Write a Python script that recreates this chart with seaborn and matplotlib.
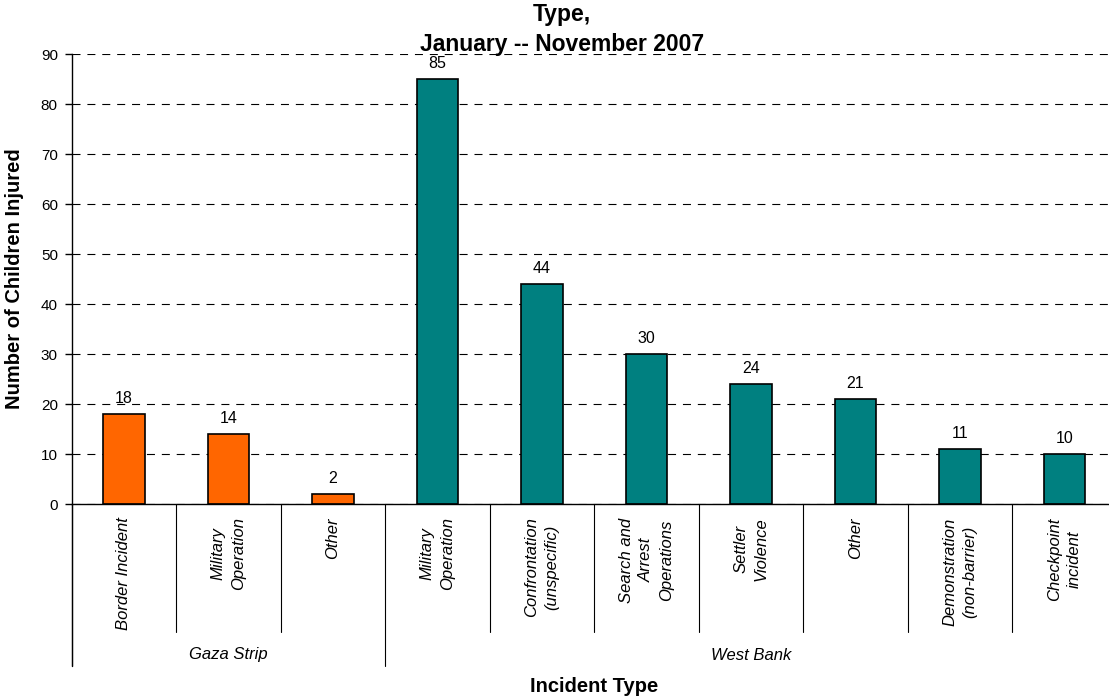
import matplotlib
matplotlib.use("Agg")
import matplotlib.pyplot as plt
import seaborn as sns
import pandas as pd

regions = ["Gaza Strip"] * 3 + ["West Bank"] * 7
categories = ["Border Incident", "Military\nOperation", "Other",
              "Military\nOperation", "Confrontation\n(unspecific)",
              "Search and\nArrest\nOperations", "Settler\nViolence", "Other",
              "Demonstration\n(non-barrier)", "Checkpoint\nincident"]
values = [18, 14, 2, 85, 44, 30, 24, 21, 11, 10]
region_colors = {"Gaza Strip": "#FF6600", "West Bank": "#008080"}
y_ticks = list(range(0, 91, 10))

sns.set_theme(style="white")
plt.rcParams["font.family"] = ["Liberation Sans", "DejaVu Sans"]
plt.rcParams["text.color"] = "black"
plt.rcParams["axes.labelcolor"] = "black"
plt.rcParams["xtick.color"] = "black"
plt.rcParams["ytick.color"] = "black"

df = pd.DataFrame({"idx": list(range(len(values))), "region": regions,
                   "value": values})

fig = plt.figure(figsize=(11.09, 7.0), dpi=100)
ax = fig.add_axes([71.75 / 1109, 196 / 700, 1045 / 1109, 450 / 700])

sns.barplot(data=df, x="idx", y="value", hue="region", palette=region_colors,
            dodge=False, width=0.4, edgecolor="black", linewidth=1.2,
            saturation=1, legend=False, ax=ax)

ax.set_ylim(0, 90)
ax.set_xlim(-0.5, len(values) - 0.5)
ax.set_yticks(y_ticks)
ax.set_yticklabels([str(t) for t in y_ticks], fontsize=11)
ax.yaxis.grid(True, linestyle=(0, (7.2, 6.2)), color="black", linewidth=0.8)
ax.set_axisbelow(True)
ax.tick_params(axis="y", left=True, length=5, width=1, color="black", pad=5)
ax.set_xticks([])
ax.set_xlabel("")
ax.set_ylabel("Number of Children Injured", fontsize=14.5, fontweight="bold",
              labelpad=12)
for s in ["top", "right"]:
    ax.spines[s].set_visible(False)
for s in ["left", "bottom"]:
    ax.spines[s].set_color("black")
    ax.spines[s].set_linewidth(1)

# value labels
for i, v in enumerate(values):
    ax.annotate(str(v), (i, v), xytext=(0, 5.5), textcoords="offset points",
                ha="center", va="bottom", fontsize=11.5)

trans = ax.get_xaxis_transform()
# category labels
for i, c in enumerate(categories):
    ax.text(i, -0.03, c, rotation=90, ha="center", va="top",
            multialignment="center", fontsize=12, style="italic",
            linespacing=1.45, transform=trans)

# dividers
cat_bottom = -128 / 450
grp_bottom = -162 / 450
group_starts = [0] + [i for i in range(1, len(regions)) if regions[i] != regions[i - 1]]
for i in range(1, len(values)):
    if i in group_starts:
        continue
    ax.plot([i - 0.5, i - 0.5], [0, cat_bottom], color="black", lw=0.8,
            transform=trans, clip_on=False)
for g in group_starts:
    ax.plot([g - 0.5, g - 0.5], [0, grp_bottom], color="black", lw=0.8,
            transform=trans, clip_on=False)
ax.plot([-0.5, -0.5], [0, grp_bottom], color="black", lw=1,
        transform=trans, clip_on=False)

# group labels
bounds = group_starts + [len(regions)]
for a, b in zip(bounds[:-1], bounds[1:]):
    ax.text((a + b - 1) / 2, -151 / 450, regions[a], ha="center", va="center",
            fontsize=12, style="italic", transform=trans)

fig.text(0.536, 1 - 686 / 700, "Incident Type", ha="center", va="center",
         fontsize=14.5, fontweight="bold")
fig.text(0.507, 1 - 14 / 700, "Type,", ha="center", va="center",
         fontsize=16.5, fontweight="bold")
fig.text(0.507, 1 - 44 / 700, "January -- November 2007", ha="center",
         va="center", fontsize=16.5, fontweight="bold")

fig.savefig("out.png", dpi=100)
